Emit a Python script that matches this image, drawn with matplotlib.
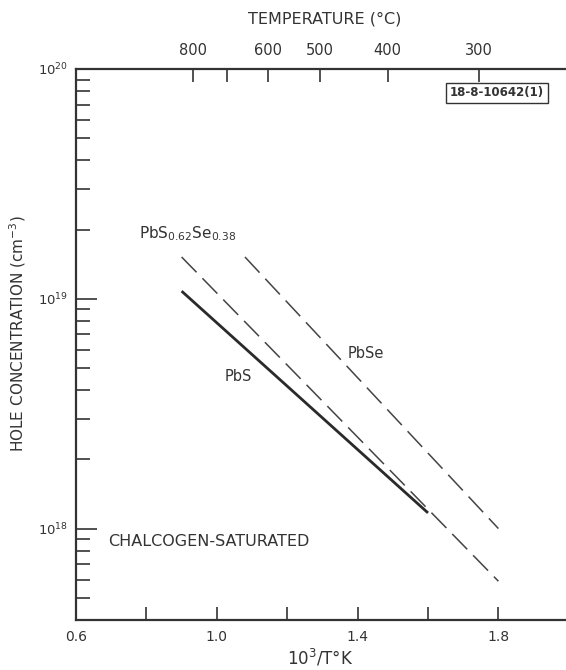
import matplotlib
matplotlib.use('Agg')
import matplotlib.pyplot as plt
import numpy as np

# hole concentration vs reciprocal temperature
pbs_x = [0.90, 1.60]
pbs_y = [1.08e19, 1.17e18]
mixed_x = [0.90, 1.80]
mixed_y = [1.52e19, 5.9e17]
pbse_x = [1.08, 1.80]
pbse_y = [1.52e19, 1.0e18]

x_ticks = [0.6, 0.8, 1.0, 1.2, 1.4, 1.6, 1.8]
x_labels = ['0.6', '', '1.0', '', '1.4', '', '1.8']
temps_c = [800, 700, 600, 500, 400, 300]
temp_labels = ['800', '', '600', '500', '400', '300']

ink = '#333333'
plt.rcParams['font.family'] = 'DejaVu Sans'
plt.rcParams['text.color'] = ink

fig = plt.figure(figsize=(5.66, 6.70), dpi=100)
ax = fig.add_axes([76/566, 50/670, 490/566, 551/670])

ax.plot(pbs_x, pbs_y, color='#2a2a2a', lw=2.0, solid_capstyle='butt')
ax.plot(mixed_x, mixed_y, color='#444444', lw=1.1, dashes=(14, 5.5))
ax.plot(pbse_x, pbse_y, color='#444444', lw=1.1, dashes=(14, 5.5))

ax.set_yscale('log')
ax.set_xlim(0.6, 0.6 + 490/352)
ax.set_ylim(4e17, 1e20)

ax.set_xticks(x_ticks, x_labels)
ax.tick_params(axis='x', direction='in', length=9.5, width=1.2, colors=ink,
               labelsize=10, pad=7)
ax.tick_params(axis='y', which='major', direction='in', length=15, width=1.2,
               colors=ink, labelsize=9.5, pad=6)
ax.tick_params(axis='y', which='minor', direction='in', length=10, width=1.2,
               colors=ink)
ax.yaxis.set_minor_formatter(matplotlib.ticker.NullFormatter())

for side in ['left', 'bottom', 'top']:
    ax.spines[side].set_linewidth(1.6)
    ax.spines[side].set_color(ink)
ax.spines['right'].set_visible(False)

# temperature scale on top
ax2 = ax.twiny()
ax2.set_xlim(ax.get_xlim())
ax2.set_xticks([1000 / (t + 273.15) for t in temps_c], temp_labels)
ax2.tick_params(axis='x', direction='in', length=9.5, width=1.2, colors=ink,
                labelsize=10.5, pad=8)
for s in ax2.spines.values():
    s.set_visible(False)
ax2.set_xlabel('TEMPERATURE (°C)', fontsize=11.5, color=ink)
ax2.xaxis.set_label_coords(0.508, 1.083)

ax.set_xlabel('10$^3$/T°K', fontsize=12, color=ink)
ax.xaxis.set_label_coords(0.498, -0.050)
ax.set_ylabel('HOLE CONCENTRATION (cm$^{-3}$)', fontsize=11, color=ink)
ax.yaxis.set_label_coords(-0.098, 0.52)

ax.text(0.78, 1.84e19, 'PbS$_{0.62}$Se$_{0.38}$', fontsize=11, va='baseline')
ax.text(1.023, 4.4e18, 'PbS', fontsize=10.5, va='baseline')
ax.text(1.373, 5.5e18, 'PbSe', fontsize=10.5, va='baseline')
ax.text(0.691, 8.8e17, 'CHALCOGEN-SATURATED', fontsize=11.5, va='center')

ax.text(0.859, 0.957, '18-8-10642(1)', transform=ax.transAxes, fontsize=8.5,
        fontweight='bold', ha='center', va='center',
        bbox=dict(boxstyle='square,pad=0.3', fc='white', ec=ink, lw=1.0))

fig.savefig('out.png', dpi=100)
